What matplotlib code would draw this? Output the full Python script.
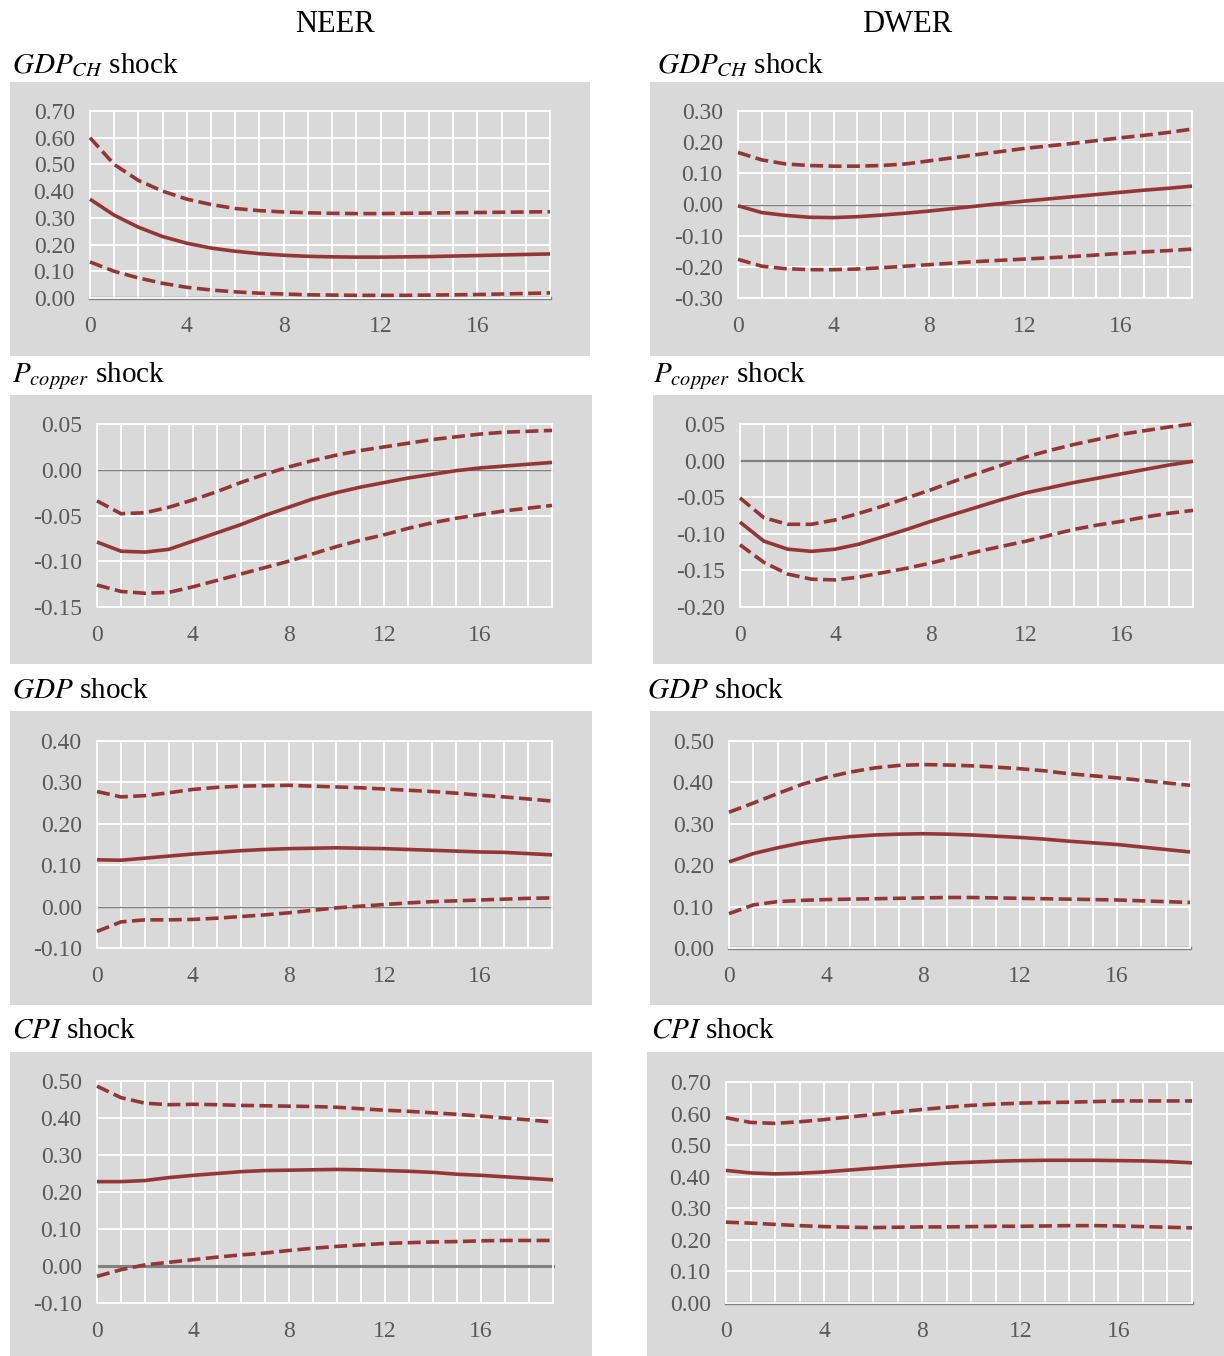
import matplotlib
matplotlib.use("Agg")
import matplotlib.pyplot as plt
from matplotlib.patches import Rectangle
from matplotlib.ticker import FuncFormatter, MultipleLocator
import numpy as np

plt.rcParams['font.family'] = ['Liberation Serif', 'DejaVu Serif']
plt.rcParams['mathtext.fontset'] = 'stix'
plt.rcParams['axes.unicode_minus'] = False

horizon = list(range(20))
x_ticks = [0, 4, 8, 12, 16]
column_titles = ["NEER", "DWER"]
row_titles = [r"$GDP_{CH}$ shock", r"$P_{copper}$ shock", r"$GDP$ shock", r"$CPI$ shock"]

# NEER, GDP_CH shock
neer_gdpch_mid = [0.370, 0.310, 0.265, 0.230, 0.205, 0.187, 0.175, 0.166, 0.160, 0.156,
                  0.154, 0.153, 0.153, 0.154, 0.155, 0.157, 0.159, 0.161, 0.163, 0.165]
neer_gdpch_up = [0.600, 0.500, 0.440, 0.400, 0.370, 0.350, 0.335, 0.327, 0.322, 0.319,
                 0.317, 0.316, 0.316, 0.317, 0.318, 0.319, 0.320, 0.321, 0.322, 0.323]
neer_gdpch_lo = [0.135, 0.100, 0.075, 0.055, 0.040, 0.030, 0.023, 0.018, 0.015, 0.012,
                 0.011, 0.010, 0.010, 0.010, 0.011, 0.012, 0.013, 0.015, 0.017, 0.019]
# DWER, GDP_CH shock
dwer_gdpch_mid = [-0.004, -0.026, -0.035, -0.041, -0.042, -0.039, -0.034, -0.028, -0.021, -0.013,
                  -0.005, 0.003, 0.011, 0.018, 0.025, 0.032, 0.039, 0.046, 0.052, 0.059]
dwer_gdpch_up = [0.167, 0.143, 0.130, 0.125, 0.123, 0.123, 0.125, 0.130, 0.140, 0.150,
                 0.160, 0.170, 0.180, 0.188, 0.196, 0.205, 0.214, 0.222, 0.231, 0.242]
dwer_gdpch_lo = [-0.176, -0.198, -0.206, -0.209, -0.209, -0.207, -0.203, -0.198, -0.193, -0.188,
                 -0.183, -0.179, -0.175, -0.171, -0.167, -0.162, -0.157, -0.152, -0.148, -0.143]
# NEER, P_copper shock
neer_pcu_mid = [-0.079, -0.089, -0.090, -0.087, -0.078, -0.069, -0.060, -0.050, -0.041, -0.032,
                -0.025, -0.019, -0.014, -0.009, -0.005, -0.001, 0.002, 0.004, 0.006, 0.008]
neer_pcu_up = [-0.034, -0.048, -0.047, -0.041, -0.033, -0.024, -0.014, -0.005, 0.003, 0.010,
               0.016, 0.021, 0.025, 0.029, 0.033, 0.036, 0.039, 0.041, 0.042, 0.043]
neer_pcu_lo = [-0.126, -0.133, -0.135, -0.134, -0.128, -0.121, -0.114, -0.107, -0.100, -0.092,
               -0.084, -0.077, -0.071, -0.064, -0.058, -0.053, -0.049, -0.045, -0.042, -0.039]
# DWER, P_copper shock
dwer_pcu_mid = [-0.084, -0.110, -0.121, -0.124, -0.121, -0.114, -0.104, -0.094, -0.083, -0.073,
                -0.063, -0.053, -0.044, -0.037, -0.030, -0.024, -0.018, -0.012, -0.006, -0.001]
dwer_pcu_up = [-0.051, -0.078, -0.087, -0.087, -0.081, -0.072, -0.062, -0.051, -0.040, -0.028,
               -0.017, -0.006, 0.005, 0.014, 0.022, 0.029, 0.036, 0.041, 0.046, 0.050]
dwer_pcu_lo = [-0.115, -0.139, -0.155, -0.162, -0.163, -0.159, -0.153, -0.147, -0.140, -0.132,
               -0.124, -0.117, -0.110, -0.102, -0.094, -0.088, -0.083, -0.077, -0.072, -0.068]
# NEER, GDP shock
neer_gdp_mid = [0.113, 0.112, 0.117, 0.122, 0.127, 0.131, 0.135, 0.138, 0.140, 0.141,
                0.142, 0.141, 0.140, 0.138, 0.136, 0.134, 0.132, 0.131, 0.128, 0.125]
neer_gdp_up = [0.278, 0.265, 0.268, 0.275, 0.283, 0.288, 0.291, 0.292, 0.293, 0.291,
               0.289, 0.287, 0.284, 0.281, 0.278, 0.274, 0.269, 0.265, 0.260, 0.255]
neer_gdp_lo = [-0.060, -0.037, -0.032, -0.032, -0.031, -0.028, -0.024, -0.020, -0.015, -0.009,
               -0.003, 0.001, 0.005, 0.009, 0.012, 0.014, 0.016, 0.018, 0.020, 0.021]
# DWER, GDP shock
dwer_gdp_mid = [0.208, 0.228, 0.242, 0.254, 0.263, 0.269, 0.273, 0.275, 0.276, 0.275,
                0.273, 0.270, 0.267, 0.263, 0.258, 0.254, 0.250, 0.244, 0.238, 0.232]
dwer_gdp_up = [0.328, 0.350, 0.373, 0.395, 0.412, 0.425, 0.435, 0.441, 0.443, 0.442,
               0.440, 0.437, 0.433, 0.428, 0.421, 0.416, 0.411, 0.405, 0.399, 0.393]
dwer_gdp_lo = [0.083, 0.104, 0.112, 0.115, 0.117, 0.118, 0.119, 0.120, 0.121, 0.122,
               0.122, 0.121, 0.120, 0.119, 0.118, 0.117, 0.116, 0.114, 0.112, 0.110]
# NEER, CPI shock
neer_cpi_mid = [0.228, 0.228, 0.231, 0.239, 0.245, 0.250, 0.255, 0.258, 0.259, 0.260,
                0.261, 0.260, 0.258, 0.256, 0.253, 0.248, 0.245, 0.241, 0.237, 0.233]
neer_cpi_up = [0.486, 0.455, 0.440, 0.436, 0.437, 0.436, 0.434, 0.433, 0.432, 0.431,
               0.429, 0.425, 0.421, 0.418, 0.414, 0.410, 0.405, 0.400, 0.395, 0.389]
neer_cpi_lo = [-0.028, -0.010, 0.003, 0.010, 0.017, 0.024, 0.030, 0.035, 0.042, 0.048,
               0.053, 0.057, 0.061, 0.063, 0.065, 0.066, 0.068, 0.069, 0.069, 0.069]
# DWER, CPI shock
dwer_cpi_mid = [0.420, 0.412, 0.409, 0.411, 0.415, 0.421, 0.427, 0.433, 0.438, 0.443,
                0.446, 0.449, 0.451, 0.452, 0.452, 0.452, 0.451, 0.450, 0.448, 0.444]
dwer_cpi_up = [0.587, 0.572, 0.569, 0.574, 0.581, 0.589, 0.597, 0.605, 0.613, 0.620,
               0.626, 0.630, 0.633, 0.635, 0.636, 0.638, 0.640, 0.640, 0.640, 0.640]
dwer_cpi_lo = [0.256, 0.253, 0.249, 0.245, 0.242, 0.240, 0.239, 0.240, 0.241, 0.241,
               0.242, 0.243, 0.243, 0.244, 0.245, 0.245, 0.244, 0.242, 0.240, 0.238]

# y-axis ranges and tick steps per panel
y_ranges = [[(0.0, 0.70, 0.10), (-0.30, 0.30, 0.10)],
            [(-0.15, 0.05, 0.05), (-0.20, 0.05, 0.05)],
            [(-0.10, 0.40, 0.10), (0.0, 0.50, 0.10)],
            [(-0.10, 0.50, 0.10), (0.0, 0.70, 0.10)]]

series = [[(neer_gdpch_mid, neer_gdpch_up, neer_gdpch_lo), (dwer_gdpch_mid, dwer_gdpch_up, dwer_gdpch_lo)],
          [(neer_pcu_mid, neer_pcu_up, neer_pcu_lo), (dwer_pcu_mid, dwer_pcu_up, dwer_pcu_lo)],
          [(neer_gdp_mid, neer_gdp_up, neer_gdp_lo), (dwer_gdp_mid, dwer_gdp_up, dwer_gdp_lo)],
          [(neer_cpi_mid, neer_cpi_up, neer_cpi_lo), (dwer_cpi_mid, dwer_cpi_up, dwer_cpi_lo)]]


def fmt_tick(v, pos):
    v = round(v, 2) + 0.0
    if abs(v) < 1e-9:
        v = 0.0
    return f"{v:.2f}"


# ---------------- layout (pixels) ----------------
W, H = 1224, 1356
fig = plt.figure(figsize=(W / 100, H / 100), dpi=100)

boxes = [[(10, 82, 590, 356), (650, 82, 1224, 356)],
         [(10, 395, 592, 664), (653, 395, 1224, 664)],
         [(10, 711, 592, 1005), (650, 711, 1224, 1005)],
         [(10, 1052, 592, 1356), (647, 1052, 1224, 1356)]]
plots = [[(90, 111, 550, 298), (738, 111, 1192, 298)],
         [(97, 424, 552, 607), (740, 424, 1193, 607)],
         [(97, 741, 552, 948), (729, 741, 1190, 948)],
         [(97, 1081, 553, 1303), (726, 1082, 1192, 1303)]]
title_pos = [[(12, 66), (657, 66)],
             [(12, 376), (653, 376)],
             [(12, 690), (647, 690)],
             [(12, 1031), (651, 1031)]]
zero_lw = [[2.4, 1.0], [1.0, 1.6], [1.0, 2.4], [2.2, 2.4]]

line_color = '#943634'
gray_bg = '#d9d9d9'

fig.text(335 / W, 1 - 24 / H, column_titles[0], fontsize=22, ha='center', va='center')
fig.text(907 / W, 1 - 24 / H, column_titles[1], fontsize=22, ha='center', va='center')

for r in range(4):
    for c in range(2):
        bx0, by0, bx1, by1 = boxes[r][c]
        fig.add_artist(Rectangle((bx0 / W, 1 - by1 / H), (bx1 - bx0) / W, (by1 - by0) / H,
                                 transform=fig.transFigure, facecolor=gray_bg,
                                 edgecolor='none', zorder=0))
        px0, py0, px1, py1 = plots[r][c]
        ax = fig.add_axes([px0 / W, 1 - py1 / H, (px1 - px0) / W, (py1 - py0) / H])
        ax.set_facecolor(gray_bg)
        lo_lim, hi_lim, step = y_ranges[r][c]
        ax.set_xlim(0, 19)
        ax.set_ylim(lo_lim, hi_lim)
        ax.set_xticks(x_ticks)
        ax.xaxis.set_minor_locator(MultipleLocator(1))
        ax.set_yticks(np.round(np.arange(lo_lim, hi_lim + step / 2, step), 2))
        ax.yaxis.set_major_formatter(FuncFormatter(fmt_tick))
        ax.tick_params(axis='both', which='both', length=0, labelsize=17,
                       labelcolor='#595959')
        ax.tick_params(axis='y', pad=11)
        ax.tick_params(axis='x', pad=13)
        ax.grid(True, which='major', axis='y', color='white', linewidth=1.3)
        ax.grid(True, which='both', axis='x', color='white', linewidth=1.3)
        ax.set_axisbelow(True)
        for s in ax.spines.values():
            s.set_color('white')
            s.set_linewidth(1.3)
        ax.axhline(0, color='#808080', linewidth=zero_lw[r][c], zorder=2, clip_on=False)
        mid, up, lo = series[r][c]
        ax.plot(horizon, up, color=line_color, linewidth=2.6, linestyle=(0, (3.6, 1.5)),
                dash_capstyle='butt', zorder=3, clip_on=False)
        ax.plot(horizon, lo, color=line_color, linewidth=2.6, linestyle=(0, (3.6, 1.5)),
                dash_capstyle='butt', zorder=3, clip_on=False)
        ax.plot(horizon, mid, color=line_color, linewidth=2.6, zorder=4, clip_on=False,
                solid_capstyle='butt')
        tx, ty = title_pos[r][c]
        fig.text(tx / W, 1 - ty / H, row_titles[r], fontsize=21, ha='left', va='center')

fig.savefig('out.png', dpi=100)
